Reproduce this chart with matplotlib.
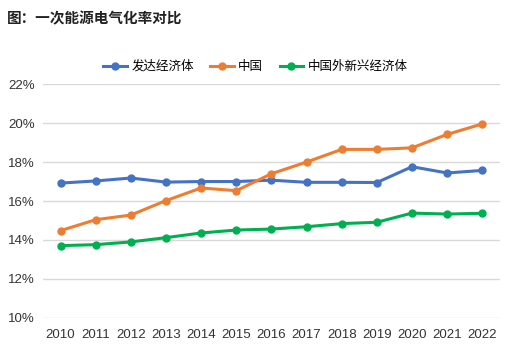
import matplotlib
matplotlib.use("Agg")
import matplotlib.pyplot as plt
from matplotlib.ticker import FuncFormatter

plt.rcParams['font.family'] = ['Liberation Sans', 'Noto Sans CJK SC', 'DejaVu Sans']

years = list(range(2010, 2023))
developed = [16.92, 17.03, 17.18, 16.97, 17.00, 17.00, 17.07, 16.96, 16.96, 16.95, 17.76, 17.44, 17.57]
china = [14.48, 15.04, 15.28, 16.02, 16.67, 16.53, 17.40, 18.00, 18.65, 18.65, 18.73, 19.42, 19.96]
emerging = [13.71, 13.76, 13.90, 14.12, 14.36, 14.51, 14.56, 14.68, 14.84, 14.91, 15.38, 15.33, 15.37]
names = ['发达经济体', '中国', '中国外新兴经济体']
colors = ['#4472C4', '#ED7D31', '#00B050']

fig = plt.figure(figsize=(5.18, 3.58), dpi=100)
ax = fig.add_axes([0.083, 0.112, 0.882, 0.653])

for series, name, c in zip([developed, china, emerging], names, colors):
    ax.plot(years, series, color=c, lw=2.2, marker='o', ms=5, label=name)

ax.set_xlim(2009.5, 2022.5)
ax.set_ylim(10, 22)
ax.set_yticks(range(10, 23, 2))
ax.yaxis.set_major_formatter(FuncFormatter(lambda v, p: f'{v:.0f}%'))
ax.set_xticks(years)
ax.grid(axis='y', color='#D9D9D9', lw=1)
ax.set_axisbelow(True)
for s in ax.spines.values():
    s.set_visible(False)
ax.tick_params(length=0, labelsize=9.5, colors='#333333', pad=8)
ax.tick_params(axis='y', pad=6)

fig.text(0.014, 0.965, '图：一次能源电气化率对比', fontsize=10.5, fontweight='bold',
         va='top', ha='left', color='#222222')
ax.legend(loc='lower center', bbox_to_anchor=(0.465, 1.0), ncol=3, frameon=False,
          fontsize=9, handlelength=1.9, columnspacing=1.3, handletextpad=0.35)

fig.savefig('out.png', dpi=100)
